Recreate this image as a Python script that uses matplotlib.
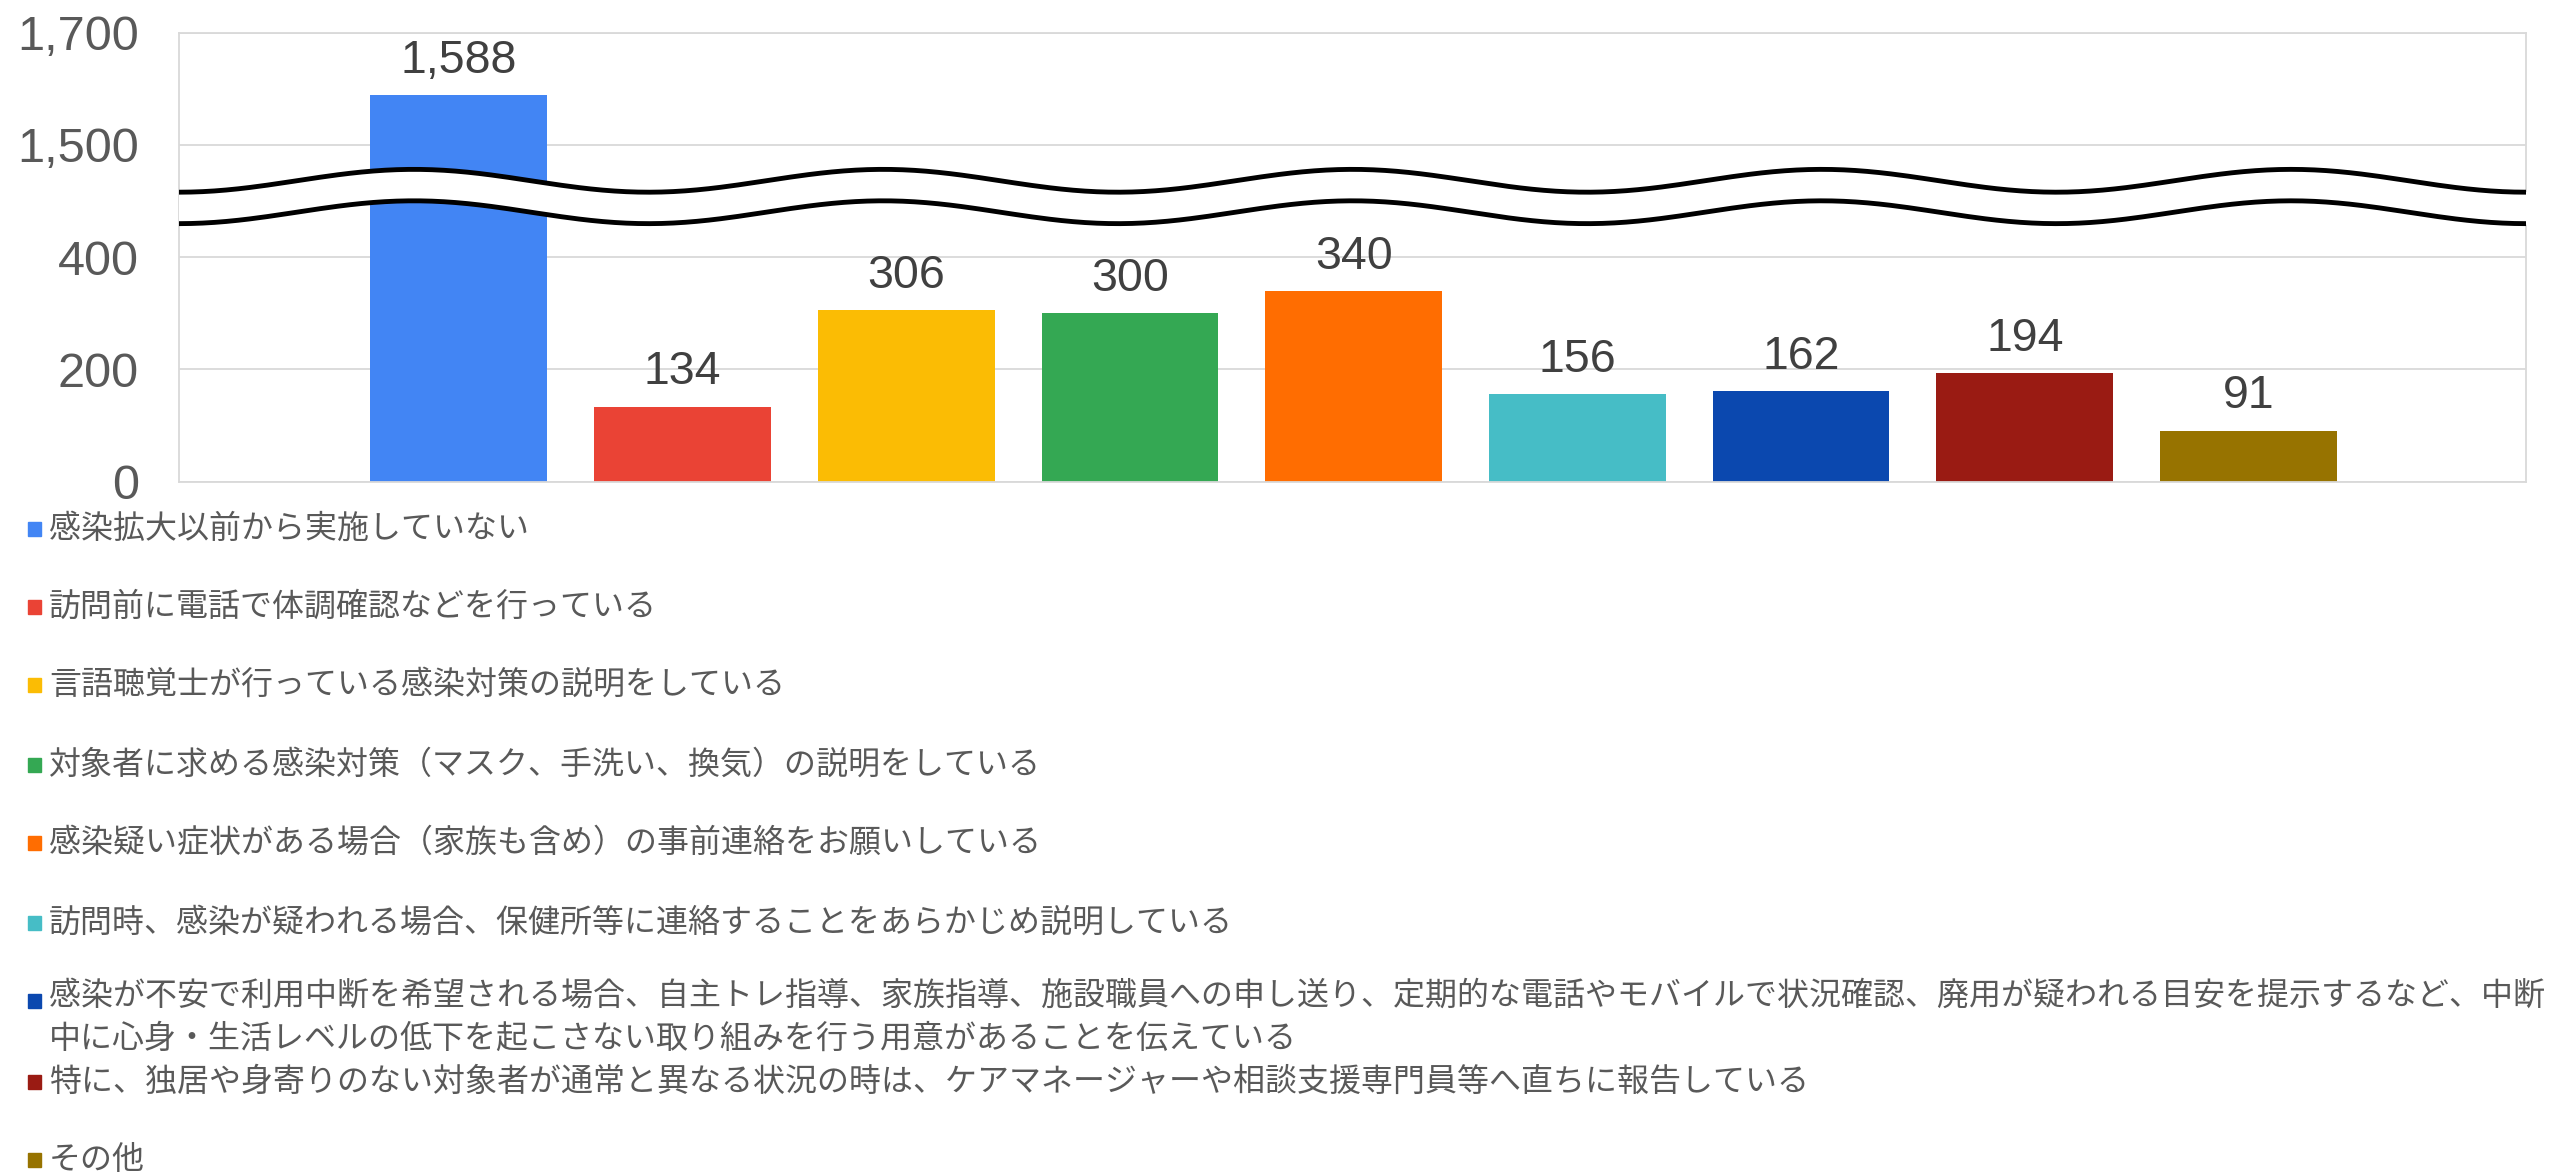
import matplotlib
matplotlib.use("Agg")
import matplotlib.pyplot as plt
import numpy as np

# data
categories = [
    "感染拡大以前から実施していない",
    "訪問前に電話で体調確認などを行っている",
    "言語聴覚士が行っている感染対策の説明をしている",
    "対象者に求める感染対策（マスク、手洗い、換気）の説明をしている",
    "感染疑い症状がある場合（家族も含め）の事前連絡をお願いしている",
    "訪問時、感染が疑われる場合、保健所等に連絡することをあらかじめ説明している",
    "感染が不安で利用中断を希望される場合、自主トレ指導、家族指導、施設職員への申し送り、定期的な電話やモバイルで状況確認、廃用が疑われる目安を提示するなど、中断\n"
    "中に心身・生活レベルの低下を起こさない取り組みを行う用意があることを伝えている",
    "特に、独居や身寄りのない対象者が通常と異なる状況の時は、ケアマネージャーや相談支援専門員等へ直ちに報告している",
    "その他",
]
values = [1588, 134, 306, 300, 340, 156, 162, 194, 91]
colors = ["#4285F4", "#EA4335", "#FBBC04", "#34A853", "#FF6D01",
          "#46BDC6", "#0B48AF", "#9A1B13", "#977300"]
yticks = [0, 200, 400, 1500, 1700]

# broken axis: 400..1500 squeezed into one tick step
real_knots = [0, 400, 1500, 1700]
disp_knots = [0, 400, 600, 800]

def forward(v):
    return np.interp(v, real_knots, disp_knots)

def inverse(d):
    return np.interp(d, disp_knots, real_knots)

fig = plt.figure(figsize=(25.52, 11.75), dpi=100)
ax = fig.add_axes([0.0702, 0.590, 0.9196, 0.3823])

x = np.arange(len(values))
ax.bar(x, values, width=0.79, color=colors, zorder=2)
ax.set_yscale("function", functions=(forward, inverse))
ax.set_ylim(0, 1700)
ax.set_xlim(-1.25, 9.24)
ax.set_yticks(yticks)
ax.set_yticklabels([f"{t:,}" for t in yticks])
ax.set_xticks([])
ax.tick_params(axis="y", length=0, pad=29, labelsize=35, labelcolor="#595959")
for lbl in ax.get_yticklabels():
    lbl.set_family(["Liberation Sans", "DejaVu Sans"])
ax.grid(axis="y", color="#d9d9d9", lw=1.3, zorder=0)
for s in ax.spines.values():
    s.set_color("#d9d9d9")
    s.set_linewidth(1.3)

# value labels
for xi, v in zip(x, values):
    ax.annotate(f"{v:,}", (xi, v), xytext=(0, 16), textcoords="offset points",
                ha="center", va="baseline", fontsize=33.5, color="#404040",
                family=["Liberation Sans", "DejaVu Sans"], zorder=4)

# wavy break marks
wx = np.linspace(0, 1, 400)
wave = 0.0254 * np.cos(2 * np.pi * (wx - 0.1) / 0.2)
ax.fill_between(wx, 0.600 + wave, 0.670 + wave, color="white",
                transform=ax.transAxes, zorder=3)
ax.plot(wx, 0.670 + wave, color="black", lw=3.5, transform=ax.transAxes, zorder=3)
ax.plot(wx, 0.600 + wave, color="black", lw=3.5, transform=ax.transAxes, zorder=3)

# legend drawn by hand, one entry per row
row_y = [529, 607, 685, 765, 843, 923, 1001, 1082, 1160]
for name, c, ry in zip(categories, colors, row_y):
    yf = 1 - ry / 1175
    fig.patches.append(plt.Rectangle((28 / 2552, yf - 7 / 1175), 13 / 2552, 14 / 1175,
                                     transform=fig.transFigure, color=c))
    if "\n" in name:
        fig.text(49 / 2552, yf + 21 / 1175, name, fontsize=23, color="#595959", va="top",
                 family=["Noto Sans CJK JP", "DejaVu Sans"], linespacing=1.45)
    else:
        fig.text(49 / 2552, yf, name, fontsize=23, color="#595959", va="center",
                 family=["Noto Sans CJK JP", "DejaVu Sans"])

fig.savefig("out.png", dpi=100)
